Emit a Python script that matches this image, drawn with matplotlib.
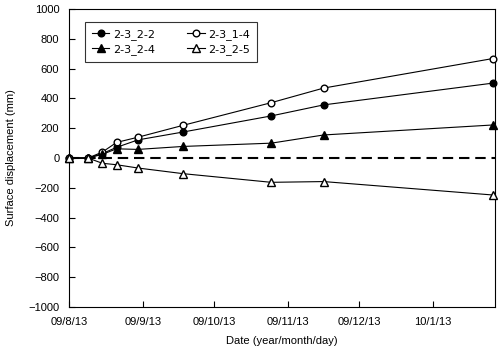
import datetime as dt

import matplotlib
matplotlib.use("Agg")
import matplotlib.pyplot as plt
import matplotlib.dates as mdates
from matplotlib.ticker import FuncFormatter

plt.rcParams['font.family'] = ['Liberation Sans', 'DejaVu Sans']

# measurement dates
dates = ["2009-08-13", "2009-08-21", "2009-08-27", "2009-09-02", "2009-09-11",
         "2009-09-30", "2009-11-06", "2009-11-28", "2010-02-07"]
# surface displacement (mm)
s_2_3_2_2 = [0, 0, 30, 72, 122, 175, 283, 357, 503]
s_2_3_1_4 = [0, 0, 40, 105, 140, 220, 372, 470, 668]
s_2_3_2_4 = [0, 0, 25, 62, 58, 78, 100, 155, 222]
s_2_3_2_5 = [0, 0, -35, -45, -67, -105, -163, -158, -248]

x_ticks = ["2009-08-13", "2009-09-13", "2009-10-13", "2009-11-13",
           "2009-12-13", "2010-01-13"]

x = [dt.datetime.strptime(d, "%Y-%m-%d") for d in dates]

fig = plt.figure(figsize=(5.0, 3.52), dpi=100)
ax = fig.add_axes([0.138, 0.128, 0.852, 0.846])

ax.axhline(0, color='black', lw=1.5, ls=(0, (5, 2.8)), zorder=1)

kw = dict(color='black', lw=0.8, clip_on=False, zorder=3)
l1, = ax.plot(x, s_2_3_2_2, marker='o', ms=4.8, mfc='black', **kw)
l2, = ax.plot(x, s_2_3_1_4, marker='o', ms=4.8, mfc='white', **kw)
l3, = ax.plot(x, s_2_3_2_4, marker='^', ms=5.2, mfc='black', **kw)
l4, = ax.plot(x, s_2_3_2_5, marker='^', ms=5.2, mfc='white', **kw)

ax.set_xlim(dt.datetime(2009, 8, 13), dt.datetime(2010, 2, 8))
ax.set_ylim(-1000, 1000)
ax.set_yticks(range(-1000, 1001, 200))
ax.set_xticks([dt.datetime.strptime(d, "%Y-%m-%d") for d in x_ticks])
ax.xaxis.set_major_formatter(FuncFormatter(
    lambda v, p: (lambda d: f"{d.year % 100:02d}/{d.month}/{d.day}")(mdates.num2date(v))))

ax.tick_params(direction='in', length=4, width=0.8, labelsize=8, colors='black')
ax.tick_params(axis='x', pad=7)
ax.tick_params(axis='y', pad=7)
for s in ax.spines.values():
    s.set_linewidth(0.8)

ax.set_xlabel("Date (year/month/day)", fontsize=8, labelpad=7)
ax.set_ylabel("Surface displacement (mm)", fontsize=8, labelpad=9)

# row-wise legend order: (2-2, 1-4) / (2-4, 2-5)
leg = ax.legend([l1, l3, l2, l4], ['2-3_2-2', '2-3_2-4', '2-3_1-4', '2-3_2-5'],
                ncol=2, loc='upper left', bbox_to_anchor=(0.0376, 0.956),
                borderaxespad=0, prop={'family': 'DejaVu Sans', 'size': 8},
                frameon=True, fancybox=False, edgecolor='black', handlelength=1.6,
                handletextpad=0.3, columnspacing=2.9, borderpad=0.6, labelspacing=0.4)
leg.get_frame().set_linewidth(0.8)

fig.savefig("out.png", dpi=100)
